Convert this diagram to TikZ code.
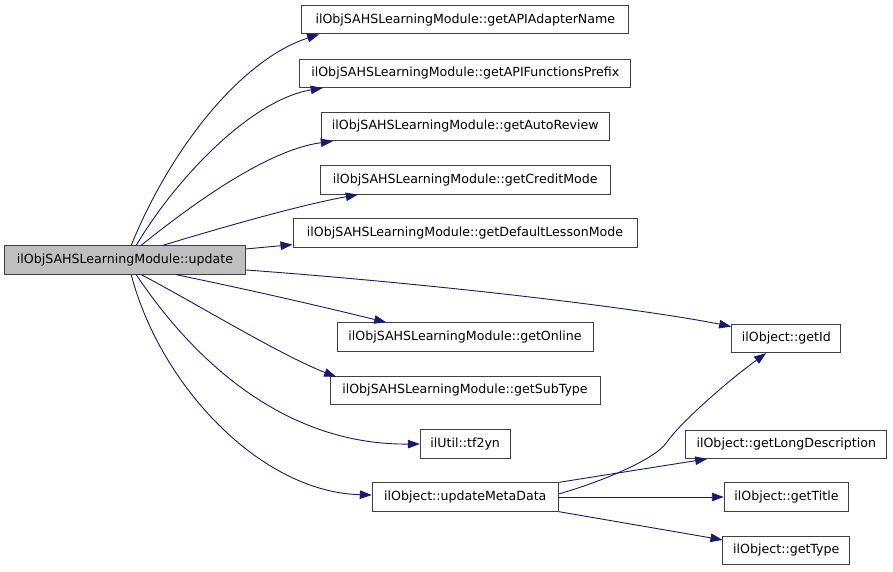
\documentclass[tikz,border=0pt]{standalone}
\usepackage{fontspec}
\setmainfont{DejaVu Sans}
\usetikzlibrary{arrows.meta}
\definecolor{edgeblue}{HTML}{191970}
\definecolor{rootgray}{HTML}{BFBFBF}
\tikzset{
  fn/.style={draw=black!75, line width=1pt, fill=white, inner sep=0pt,
    minimum height=28.3pt, font=\fontsize{12.6}{15}\selectfont, anchor=center},
  rootfn/.style={fn, fill=rootgray},
  call/.style={draw=edgeblue, line width=0.9pt,
    -{Triangle[length=12pt,width=8.5pt]}, fill=none},
}
\begin{document}
\begin{tikzpicture}[x=1pt,y=-1pt]
\useasboundingbox (0,0) rectangle (893,571);
\fill[white] (0,0) rectangle (893,571);
% nodes
\node[rootfn, minimum width=240.6pt] (root) at (125,260) {ilObjSAHSLearningModule::update};
\node[fn, minimum width=327.3pt] (b1) at (465.3,19.7) {ilObjSAHSLearningModule::getAPIAdapterName};
\node[fn, minimum width=331.3pt] (b2) at (465.3,73.3) {ilObjSAHSLearningModule::getAPIFunctionsPrefix};
\node[fn, minimum width=288.3pt] (b3) at (465.2,126.5) {ilObjSAHSLearningModule::getAutoReview};
\node[fn, minimum width=290pt] (b4) at (465.3,180) {ilObjSAHSLearningModule::getCreditMode};
\node[fn, minimum width=344pt] (b5) at (465,233) {ilObjSAHSLearningModule::getDefaultLessonMode};
\node[fn, minimum width=256pt] (online) at (465,337) {ilObjSAHSLearningModule::getOnline};
\node[fn, minimum width=270pt] (subtype) at (465,390.5) {ilObjSAHSLearningModule::getSubType};
\node[fn, minimum width=89.7pt] (tf) at (465.2,444) {ilUtil::tf2yn};
\node[fn, minimum width=186pt] (umd) at (465.3,497) {ilObject::updateMetaData};
\node[fn, minimum width=109.3pt] (getid) at (786.3,338.5) {ilObject::getId};
\node[fn, minimum width=201.3pt] (longd) at (786.3,444.2) {ilObject::getLongDescription};
\node[fn, minimum width=124.4pt] (title) at (786.5,497) {ilObject::getTitle};
\node[fn, minimum width=126.7pt] (type) at (786.3,550.5) {ilObject::getType};
% edges from root upward
\draw[call] ([xshift=127pt]root.north west) .. controls (170,150) and (240,60) .. ([xshift=18pt]b1.south west);
\draw[call] ([xshift=132pt]root.north west) .. controls (175,180) and (250,100) .. ([xshift=23.6pt]b2.south west);
\draw[call] ([xshift=137pt]root.north west) .. controls (185,210) and (265,150) .. ([xshift=12.3pt]b3.south west);
\draw[call] ([xshift=158.6pt]root.north west) .. controls (220,228) and (300,205) .. ([xshift=38pt]b4.south west);
\draw[call] ([yshift=-3.6pt]root.north east) -- ([yshift=3pt]b5.south west);
% root to getId
\draw[call] ([yshift=4.7pt]root.south east) .. controls (450,285) and (650,310) .. ([yshift=-2.7pt]getid.north west);
% edges from root downward
\draw[call] ([xshift=172pt]root.south west) .. controls (250,290) and (320,306) .. ([xshift=49.7pt]online.north west);
\draw[call] ([xshift=137pt]root.south west) .. controls (190,300) and (280,355) .. ([xshift=6.7pt,yshift=-1pt]subtype.north west);
\draw[call] ([xshift=132pt]root.south west) .. controls (190,355) and (280,445) .. (tf.west);
\draw[call] ([xshift=127pt]root.south west) .. controls (160,385) and (260,492) .. ([yshift=2pt]umd.west);
% edges from updateMetaData
\draw[call] ([yshift=3pt]umd.east) .. controls (600,482) and (655,460) .. (667,442)
  .. controls (679,424) and (726.7,381.7) .. ([xshift=35pt]getid.south west);
\draw[call] (umd.north east) -- ([xshift=22pt]longd.south west);
\draw[call] (umd.east) -- (title.west);
\draw[call] (umd.south east) -- ([yshift=-4pt]type.north west);
\end{tikzpicture}
\end{document}
